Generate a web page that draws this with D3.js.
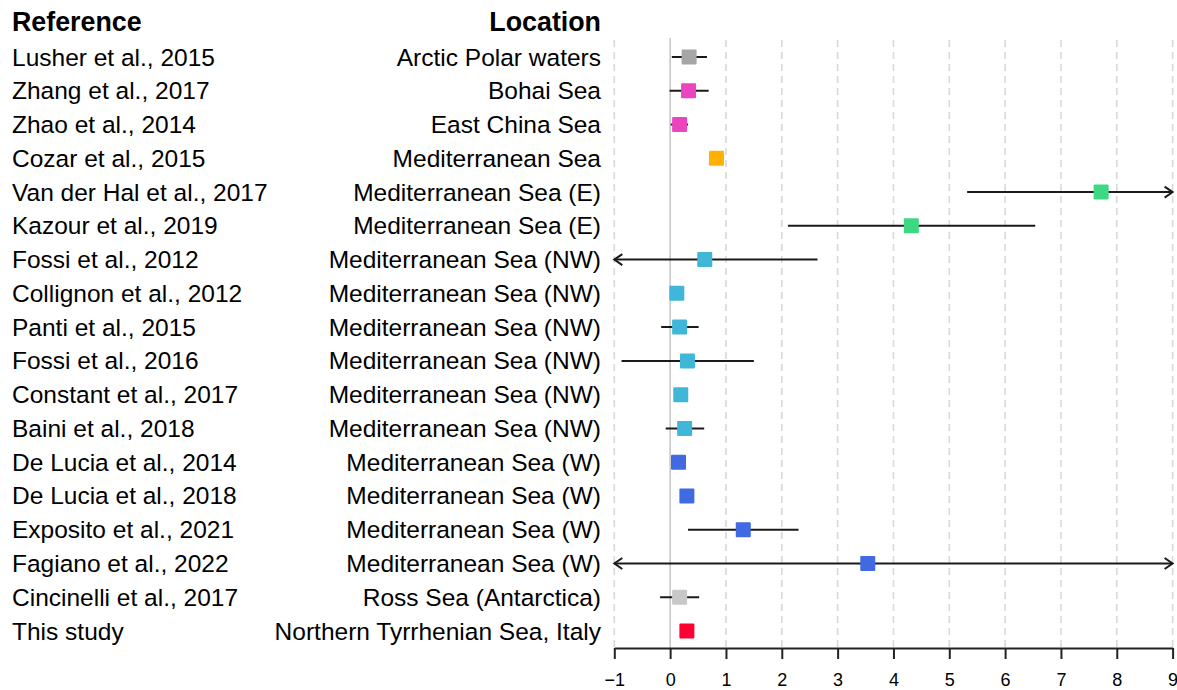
<!DOCTYPE html>
<html>
<head>
<meta charset="utf-8">
<script src="https://cdn.jsdelivr.net/npm/d3@7"></script>
<style>
  html, body { margin: 0; padding: 0; background: #fff; }
  svg { display: block; font-family: "Liberation Sans", Arial, sans-serif; }
</style>
</head>
<body>
<svg id="chart" width="1177" height="690"></svg>
<script>
// ---- data ----
const references = [
  "Lusher et al., 2015", "Zhang et al., 2017", "Zhao et al., 2014", "Cozar et al., 2015",
  "Van der Hal et al., 2017", "Kazour et al., 2019", "Fossi et al., 2012", "Collignon et al., 2012",
  "Panti et al., 2015", "Fossi et al., 2016", "Constant et al., 2017", "Baini et al., 2018",
  "De Lucia et al., 2014", "De Lucia et al., 2018", "Exposito et al., 2021", "Fagiano et al., 2022",
  "Cincinelli et al., 2017", "This study"
];
const locations = [
  "Arctic Polar waters", "Bohai Sea", "East China Sea", "Mediterranean Sea",
  "Mediterranean Sea (E)", "Mediterranean Sea (E)", "Mediterranean Sea (NW)", "Mediterranean Sea (NW)",
  "Mediterranean Sea (NW)", "Mediterranean Sea (NW)", "Mediterranean Sea (NW)", "Mediterranean Sea (NW)",
  "Mediterranean Sea (W)", "Mediterranean Sea (W)", "Mediterranean Sea (W)", "Mediterranean Sea (W)",
  "Ross Sea (Antarctica)", "Northern Tyrrhenian Sea, Italy"
];
const groups = [
  "Arctic", "China", "China", "Med", "MedE", "MedE", "MedNW", "MedNW", "MedNW", "MedNW",
  "MedNW", "MedNW", "MedW", "MedW", "MedW", "MedW", "Antarctic", "ThisStudy"
];
const means = [0.34, 0.33, 0.17, 0.83, 7.72, 4.32, 0.62, 0.12, 0.17, 0.31, 0.19, 0.26, 0.15, 0.30, 1.31, 3.54, 0.17, 0.30];
// null = no interval shown; -Infinity / Infinity = interval runs beyond the axis (arrow)
const lows  = [0.03, -0.01, 0.01, null, 5.32, 2.11, -Infinity, null, -0.16, -0.87, null, -0.08, null, null, 0.32, -Infinity, -0.18, null];
const highs = [0.66, 0.69, 0.32, null, Infinity, 6.54, 2.64, null, 0.51, 1.50, null, 0.61, null, null, 2.30, Infinity, 0.52, null];
const tickValues = [-1, 0, 1, 2, 3, 4, 5, 6, 7, 8, 9];
const groupNames = ["Arctic", "China", "Med", "MedE", "MedNW", "MedW", "Antarctic", "ThisStudy"];
const groupColors = ["#a6a6a6", "#ea45bf", "#ffb000", "#3dd882", "#40b6d9", "#4169e1", "#c8c8c8", "#ff0033"];

// ---- layout ----
const svg = d3.select("#chart");
const x = d3.scaleLinear().domain([-1, 9]).range([614.3, 1172.6]);
const y = d3.scalePoint().domain(d3.range(references.length)).range([57, 631]);
const color = d3.scaleOrdinal().domain(groupNames).range(groupColors);
const axisY = 648, plotTop = 40;
const rowFont = 24.5, headFont = 26.8;

// grid
svg.append("g").selectAll("line").data(tickValues.filter(d => d !== 0)).join("line")
  .attr("x1", d => x(d)).attr("x2", d => x(d))
  .attr("y1", plotTop).attr("y2", axisY)
  .attr("stroke", "#d9d9d9").attr("stroke-width", 1.6).attr("stroke-dasharray", "7,5");
svg.append("line")
  .attr("x1", x(0)).attr("x2", x(0)).attr("y1", plotTop - 2).attr("y2", axisY)
  .attr("stroke", "#c8c8c8").attr("stroke-width", 1.6);

// axis
const axis = svg.append("g").attr("transform", `translate(0,${axisY})`)
  .call(d3.axisBottom(x).tickValues(tickValues).tickSize(11).tickSizeOuter(0).tickPadding(14).tickFormat(d3.format("")));
axis.select(".domain").attr("stroke", "#222").attr("stroke-width", 2);
axis.selectAll(".tick line").attr("stroke", "#222").attr("stroke-width", 2);
axis.selectAll(".tick text").attr("font-size", 18).attr("fill", "#000")
  .attr("font-family", "'Liberation Sans', Arial, sans-serif");

// headers
svg.append("text").attr("x", 12).attr("y", 31).attr("font-size", headFont).attr("font-weight", "bold").text("Reference");
svg.append("text").attr("x", 601).attr("y", 31).attr("font-size", headFont).attr("font-weight", "bold")
  .attr("text-anchor", "end").text("Location");

// row labels
const idx = d3.range(references.length);
svg.append("g").selectAll("text").data(idx).join("text")
  .attr("x", 12).attr("y", i => y(i) + 8.5).attr("font-size", rowFont).text(i => references[i]);
svg.append("g").selectAll("text").data(idx).join("text")
  .attr("x", 601).attr("y", i => y(i) + 8.5).attr("font-size", rowFont).attr("text-anchor", "end")
  .text(i => locations[i]);

// error bars
const [dmin, dmax] = x.domain();
const ci = idx.filter(i => lows[i] !== null);
const bars = svg.append("g");
bars.selectAll("line").data(ci).join("line")
  .attr("x1", i => x(Math.max(lows[i], dmin))).attr("x2", i => x(Math.min(highs[i], dmax)))
  .attr("y1", i => y(i)).attr("y2", i => y(i))
  .attr("stroke", "#1a1a1a").attr("stroke-width", 2);
const arrows = [];
ci.forEach(i => {
  if (lows[i] < dmin) arrows.push({ i, side: -1 });
  if (highs[i] > dmax) arrows.push({ i, side: 1 });
});
bars.selectAll("path").data(arrows).join("path")
  .attr("d", a => {
    const xe = a.side > 0 ? x(dmax) : x(dmin), yy = y(a.i), s = a.side;
    return `M${xe - s * 8},${yy - 5.5}L${xe},${yy}L${xe - s * 8},${yy + 5.5}`;
  })
  .attr("fill", "none").attr("stroke", "#1a1a1a").attr("stroke-width", 2);

// points
const sq = 15;
svg.append("g").selectAll("rect").data(idx).join("rect")
  .attr("x", i => x(means[i]) - sq / 2).attr("y", i => y(i) - sq / 2)
  .attr("width", sq).attr("height", sq).attr("rx", 1)
  .attr("fill", i => color(groups[i]));
</script>
</body>
</html>
